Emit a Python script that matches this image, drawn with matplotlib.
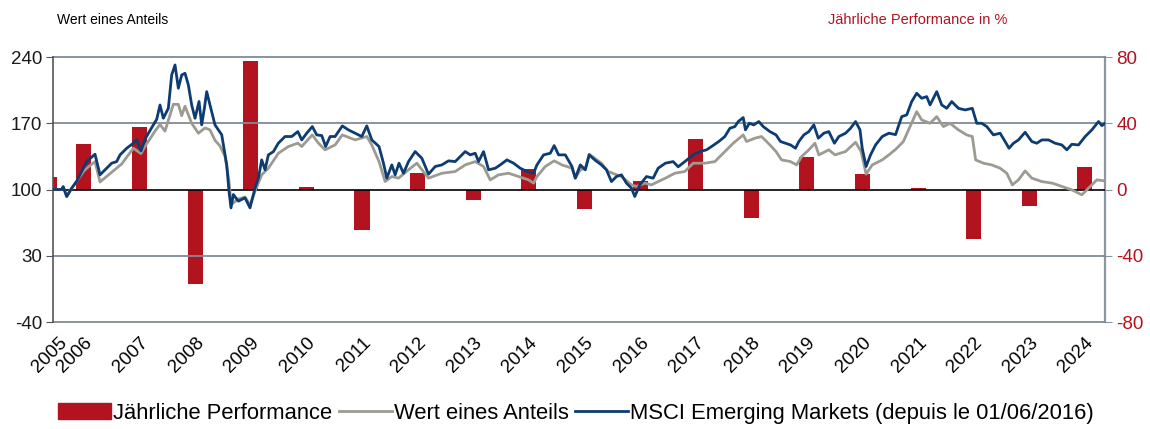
import matplotlib
matplotlib.use("Agg")
import matplotlib.pyplot as plt
from matplotlib.patches import Patch
from matplotlib.lines import Line2D

plt.rcParams["font.family"] = ["Liberation Sans", "DejaVu Sans"]
plt.rcParams["axes.unicode_minus"] = False

# annual performance in % (right axis); 2005 is a partial year
perf_years = [2005, 2006, 2007, 2008, 2009, 2010, 2011, 2012, 2013, 2014,
              2015, 2016, 2017, 2018, 2019, 2020, 2021, 2022, 2023, 2024]
perf_values = [7.7, 27.3, 37.5, -57.0, 77.8, 1.7, -24.5, 9.8, -6.3, 12.2,
               -11.8, 5.1, 30.3, -17.4, 19.4, 9.2, 1.1, -29.7, -10.0, 13.6]

# value of one share (fractional year, value)
fund_dates = [
    2005.227, 2005.383, 2005.41, 2005.473, 2005.563, 2005.653, 2005.772, 2005.833,
    2005.982, 2006.072, 2006.282, 2006.462, 2006.671, 2006.809, 2006.881, 2007.061,
    2007.151, 2007.241, 2007.391, 2007.481, 2007.541, 2007.601, 2007.721, 2007.841,
    2007.96, 2008.05, 2008.14, 2008.23, 2008.32, 2008.39, 2008.43, 2008.56,
    2008.68, 2008.77, 2008.86, 2008.98, 2009.10, 2009.28, 2009.46, 2009.63,
    2009.70, 2009.89, 2010.00, 2010.12, 2010.30, 2010.43, 2010.66, 2010.87,
    2010.96, 2011.09, 2011.20, 2011.32, 2011.44, 2011.62, 2011.77, 2011.98,
    2012.22, 2012.46, 2012.64, 2012.82, 2012.97, 2013.09, 2013.24, 2013.42,
    2013.60, 2013.78, 2013.87, 2013.93, 2014.08, 2014.24, 2014.38, 2014.56,
    2014.62, 2014.71, 2014.80, 2014.87, 2014.97, 2015.09, 2015.21, 2015.45,
    2015.63, 2015.72, 2015.87, 2015.99, 2016.11, 2016.24, 2016.41, 2016.59,
    2016.74, 2016.95, 2017.13, 2017.31, 2017.46, 2017.64, 2017.70, 2017.85,
    2017.97, 2018.12, 2018.23, 2018.33, 2018.49, 2018.60, 2018.69, 2018.82,
    2018.93, 2019.00, 2019.18, 2019.29, 2019.48, 2019.66, 2019.76, 2019.85,
    2019.96, 2020.14, 2020.26, 2020.39, 2020.52, 2020.64, 2020.76, 2020.85,
    2021.00, 2021.12, 2021.24, 2021.36, 2021.51, 2021.66, 2021.76, 2021.82,
    2021.96, 2022.11, 2022.26, 2022.38, 2022.48, 2022.59, 2022.71, 2022.83,
    2023.01, 2023.20, 2023.37, 2023.55, 2023.73, 2023.85, 2024.00, 2024.147,
]
fund_values = [
    100, 100, 103, 92.6, 101.4, 108.7, 119, 122.5,
    129.5, 108, 118.3, 127, 143.6, 138, 145.5, 161.7,
    168.7, 161.7, 190, 190, 178, 188, 170, 159.5,
    165, 163, 152, 146, 135, 110, 84, 90,
    92, 84, 98, 115.5, 122.5, 138.3, 145.4, 149,
    145.4, 157.7, 149, 141.9, 147.1, 157.7, 152.4, 156,
    147.1, 129.5, 108.4, 113.7, 112, 120.8, 127.8, 112,
    117.2, 119, 126, 129.5, 124.3, 110.2, 115.5, 117.2,
    113.7, 110.2, 106.7, 113.7, 124.3, 130.3, 126, 122.5,
    112, 120.8, 122.5, 137.3, 133, 127.8, 119, 113.7,
    104.9, 103.2, 106.7, 104.9, 108.4, 112, 117.2, 119,
    127.8, 127.8, 129.5, 140.1, 148.9, 157.7, 150.7, 154.2,
    156, 147.1, 140.1, 131.3, 129.5, 126, 134.8, 141.9,
    148.9, 136.6, 141.9, 136.6, 140.1, 150, 140.1, 116.2,
    126, 131.3, 136.6, 142.9, 150.7, 166.5, 182.3, 173.5,
    170, 177, 166.5, 170, 163, 157.7, 156, 131.3,
    127.8, 126, 122.5, 117.2, 104.9, 110.2, 119.7, 112,
    108.4, 106.7, 103.2, 99.6, 94.4, 101.4, 110.2, 109.1,
]

# MSCI Emerging Markets (fractional year, value)
msci_dates = [
    2005.227, 2005.383, 2005.41, 2005.473, 2005.563, 2005.653, 2005.772, 2005.833,
    2005.982, 2006.072, 2006.162, 2006.282, 2006.372, 2006.432, 2006.552, 2006.671,
    2006.732, 2006.809, 2006.881, 2007.002, 2007.092, 2007.151, 2007.211, 2007.301,
    2007.361, 2007.421, 2007.481, 2007.541, 2007.601, 2007.661, 2007.721, 2007.781,
    2007.853, 2007.901, 2007.949, 2007.991, 2008.05, 2008.14, 2008.261, 2008.351,
    2008.392, 2008.428, 2008.47, 2008.56, 2008.68, 2008.77, 2008.86, 2008.92,
    2008.98, 2009.04, 2009.10, 2009.19, 2009.28, 2009.40, 2009.52, 2009.63,
    2009.70, 2009.79, 2009.89, 2009.97, 2010.06, 2010.13, 2010.21, 2010.30,
    2010.43, 2010.54, 2010.66, 2010.78, 2010.87, 2010.96, 2011.09, 2011.17,
    2011.23, 2011.32, 2011.38, 2011.45, 2011.53, 2011.62, 2011.74, 2011.86,
    2011.98, 2012.10, 2012.22, 2012.34, 2012.46, 2012.64, 2012.73, 2012.82,
    2012.88, 2012.97, 2013.06, 2013.18, 2013.27, 2013.39, 2013.51, 2013.63,
    2013.75, 2013.87, 2013.93, 2014.05, 2014.17, 2014.24, 2014.32, 2014.44,
    2014.56, 2014.62, 2014.71, 2014.80, 2014.87, 2014.97, 2015.09, 2015.18,
    2015.27, 2015.36, 2015.45, 2015.54, 2015.63, 2015.69, 2015.78, 2015.90,
    2016.02, 2016.11, 2016.24, 2016.38, 2016.47, 2016.59, 2016.74, 2016.86,
    2016.98, 2017.07, 2017.20, 2017.31, 2017.40, 2017.49, 2017.55, 2017.64,
    2017.68, 2017.75, 2017.83, 2017.92, 2018.00, 2018.12, 2018.23, 2018.31,
    2018.40, 2018.49, 2018.58, 2018.64, 2018.73, 2018.82, 2018.91, 2018.99,
    2019.09, 2019.18, 2019.28, 2019.36, 2019.48, 2019.57, 2019.66, 2019.74,
    2019.78, 2019.85, 2019.93, 2020.02, 2020.14, 2020.26, 2020.38, 2020.49,
    2020.58, 2020.67, 2020.76, 2020.85, 2020.94, 2021.00, 2021.12, 2021.21,
    2021.30, 2021.39, 2021.51, 2021.63, 2021.76, 2021.84, 2021.93, 2022.02,
    2022.14, 2022.26, 2022.35, 2022.42, 2022.50, 2022.59, 2022.71, 2022.83,
    2022.92, 2023.01, 2023.13, 2023.25, 2023.37, 2023.46, 2023.55, 2023.67,
    2023.79, 2023.91, 2024.03, 2024.09, 2024.147,
]
msci_values = [
    100, 100, 103, 92.6, 101.4, 108.7, 122.5, 129.5,
    137.3, 115.5, 120.8, 127.8, 129.5, 136.6, 143.6, 148.9,
    152.4, 140.8, 153.1, 165.4, 174.2, 189.3, 175.3, 185.8,
    221, 231.6, 207, 221, 222.8, 210.5, 189.3, 175.3,
    193, 168.3, 185.8, 203.4, 189.3, 168.3, 157.8, 126.1,
    98, 80.6, 94.7, 87.7, 91.2, 80.6, 101.4, 111.9,
    131.3, 120.8, 136.6, 140, 149, 156, 156, 161.2,
    152.4, 159.5, 166.5, 157.7, 157, 145.4, 156, 156,
    167.2, 163, 159.5, 156, 167.2, 152.4, 145.4, 127.8,
    112, 126, 115.5, 127.8, 117.2, 129.5, 140.1, 133,
    116.2, 124.3, 126, 130.3, 129.5, 140.1, 136.6, 138.3,
    129.5, 140.1, 120.8, 122.5, 126, 131.3, 127.8, 122.5,
    119, 117.2, 126, 136.6, 138.3, 146.4, 136.6, 136.6,
    124.3, 112, 126, 120.8, 136.6, 131.3, 126, 120.8,
    108.4, 113.7, 115.5, 106.7, 101.4, 92.6, 104.9, 113.7,
    112, 122.5, 127.8, 129.5, 124, 129.5, 136.6, 140.1,
    141.9, 145.4, 150.7, 156, 164.7, 166.5, 171.8, 176,
    163, 170, 168.3, 171.8, 166.5, 161.2, 157.7, 150.7,
    148.9, 147.1, 143.6, 150.7, 157.7, 161.2, 168.3, 154.2,
    159.5, 161.2, 148.9, 156, 159.5, 164.7, 171.8, 163,
    143.6, 124.3, 136.6, 147.1, 156, 159.5, 158, 177,
    178.8, 192.9, 201.7, 196.4, 198.2, 189.4, 203.4, 189.4,
    185.8, 192.9, 185.8, 184.1, 185.8, 170, 170, 166.5,
    157.7, 159.5, 150.7, 143.6, 148.9, 152.4, 160.5, 150.7,
    148.9, 152.4, 152.4, 148.9, 147.1, 141.9, 147.8, 147.1,
    156, 163, 171.8, 167.5, 170,
]

tick_pos = [2005.55] + list(range(2006, 2025))
tick_labels = [str(y) for y in range(2005, 2025)]

RED = "#b3121f"
BLUE = "#0c3c72"
GREY = "#9c9b92"
GRID = "#7f8b97"

fig = plt.figure(figsize=(11.5, 4.29), dpi=100)
ax = fig.add_axes([0.0461, 0.2494, 0.9148, 0.6177])
ax2 = ax.twinx()
ax2.set_zorder(ax.get_zorder() - 1)
ax.patch.set_visible(False)

x_left, x_right = 2005.227, 2024.147

# bars (right axis), full years centred slightly before the year tick
bar_w = 0.27
ax2.bar(x_left, perf_values[0], width=0.07, align="edge", color=RED)
ax2.bar([y - 0.216 for y in perf_years[1:]], perf_values[1:], width=bar_w, color=RED)
ax2.set_ylim(-80, 80)
ax2.set_yticks([-80, -40, 0, 40, 80])

ax.plot(fund_dates, fund_values, color=GREY, lw=2, zorder=3)
ax.plot(msci_dates, msci_values, color=BLUE, lw=2, zorder=4)
ax.set_xlim(x_left, x_right)
ax.set_ylim(-40, 240)
ax.set_yticks([-40, 30, 100, 170, 240])

for v in [240, 170, 30, -40]:
    ax.axhline(v, color=GRID, lw=1.3, zorder=1, clip_on=False)
ax.axhline(100, color="black", lw=1.2, zorder=2)

for s in ["top", "bottom", "right"]:
    ax.spines[s].set_visible(False)
for s in ["top", "bottom", "left"]:
    ax2.spines[s].set_visible(False)
ax.spines["left"].set_color("#555555")
ax.spines["left"].set_linewidth(1.2)
ax2.spines["right"].set_color("#8a96a0")
ax2.spines["right"].set_linewidth(1.6)

ax.tick_params(axis="y", length=5, color="#555555", labelsize=13.5, labelcolor="#1a1a1a", pad=3)
ax2.tick_params(axis="y", length=5, color="#8a96a0", labelsize=13.5, labelcolor=RED, pad=3)
ax.set_xticks(tick_pos)
ax.set_xticklabels(tick_labels, rotation=45, ha="right", fontsize=13.5)
ax.tick_params(axis="x", length=0, pad=9)

fig.text(0.0496, 0.953, "Wert eines Anteils", fontsize=10, va="center", ha="left")
fig.text(0.72, 0.953, "Jährliche Performance in %", fontsize=10.5, va="center", ha="left", color=RED)

handles = [
    Patch(facecolor=RED, edgecolor=RED),
    Line2D([], [], color=GREY, lw=2),
    Line2D([], [], color=BLUE, lw=2),
]
labels = ["Jährliche Performance", "Wert eines Anteils",
          "MSCI Emerging Markets (depuis le 01/06/2016)"]
fig.legend(handles, labels, loc="center", bbox_to_anchor=(0.501, 0.037), ncol=3,
           frameon=False, fontsize=15.8, handlelength=2.4, handletextpad=0.1,
           columnspacing=0.3, borderaxespad=0)

fig.savefig("out.png", dpi=100)
